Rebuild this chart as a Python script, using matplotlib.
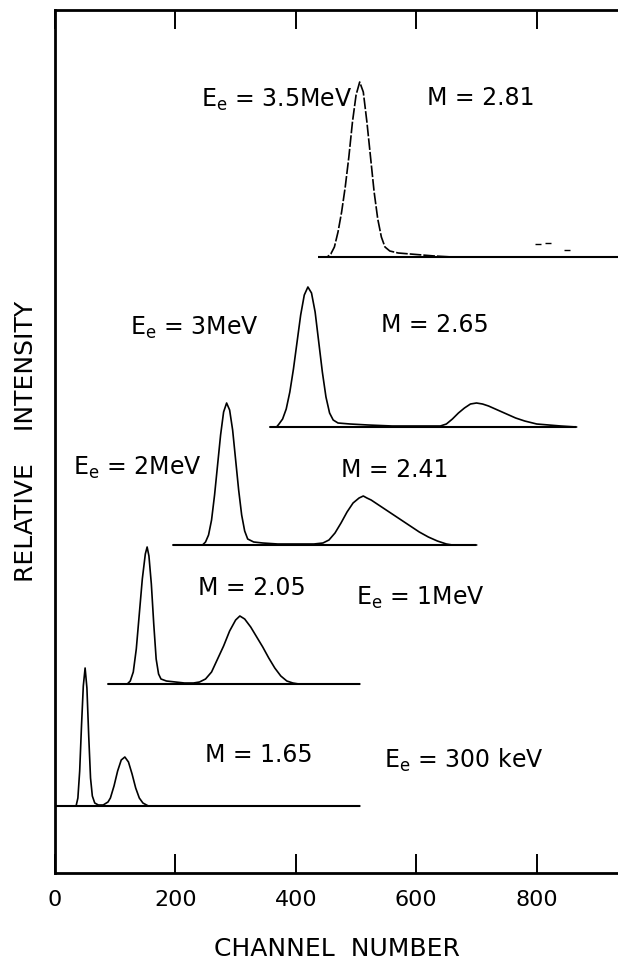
import matplotlib.pyplot as plt

# channel positions and heights above each trace's own baseline
ch_300kev = [0, 35, 38, 41, 44, 47, 50, 53, 56, 59, 62, 66, 72, 80, 88, 92, 98, 104, 110, 116, 122, 128, 134, 140, 146, 155, 506]
ht_300kev = [0, 0, 8, 35, 80, 120, 138, 118, 70, 28, 10, 3, 1, 1, 4, 8, 20, 35, 46, 49, 44, 32, 18, 8, 3, 0, 0]

ch_1mev = [88, 120, 125, 130, 135, 140, 145, 150, 153, 156, 160, 164, 168, 172, 176, 185, 200, 215, 230, 240, 250, 260, 270, 280, 290, 300, 307, 315, 325, 335, 345, 355, 365, 375, 385, 395, 405, 506]
ht_1mev = [0, 0, 3, 12, 35, 70, 105, 130, 137, 128, 100, 60, 25, 10, 5, 3, 2, 1, 1, 2, 5, 12, 25, 38, 53, 64, 68, 65, 57, 47, 37, 26, 16, 8, 3, 1, 0, 0]

ch_2mev = [196, 245, 250, 255, 260, 265, 270, 275, 280, 285, 290, 295, 300, 305, 310, 315, 320, 330, 345, 370, 400, 430, 445, 455, 465, 475, 485, 495, 505, 512, 518, 525, 535, 545, 560, 575, 590, 605, 620, 635, 650, 660, 700]
ht_2mev = [0, 0, 3, 10, 25, 50, 80, 110, 133, 142, 135, 115, 85, 55, 30, 14, 6, 3, 2, 1, 1, 1, 2, 5, 12, 22, 33, 42, 47, 49, 47, 45, 41, 37, 31, 25, 19, 13, 8, 4, 1, 0, 0]

ch_3mev = [357, 368, 372, 378, 384, 390, 396, 402, 408, 414, 420, 426, 432, 438, 444, 450, 456, 462, 470, 490, 520, 560, 600, 640, 650, 660, 670, 680, 690, 700, 710, 720, 735, 750, 765, 780, 800, 820, 840, 866]
ht_3mev = [0, 0, 3, 8, 18, 35, 58, 85, 112, 132, 140, 134, 115, 85, 55, 30, 14, 7, 4, 3, 2, 1, 1, 1, 3, 8, 14, 19, 23, 24, 23, 21, 17, 13, 9, 6, 3, 2, 1, 0]

ch_35mev = [437, 452, 458, 464, 470, 476, 482, 488, 494, 500, 506, 512, 518, 524, 530, 536, 542, 548, 556, 570, 590, 610, 630, 660, 940]
ht_35mev = [0, 0, 3, 10, 25, 45, 70, 100, 135, 162, 175, 165, 135, 100, 65, 38, 20, 10, 6, 4, 3, 2, 1, 0, 0]
stray_ch = [802, 818, 850]
stray_ht = [13, 14, 7]

# vertical offsets of the stacked spectra
baselines = [67, 189, 328, 446, 616]

energy_labels = ["$\\mathrm{E_e}$ = 300 keV", "$\\mathrm{E_e}$ = 1MeV", "$\\mathrm{E_e}$ = 2MeV",
                 "$\\mathrm{E_e}$ = 3MeV", "$\\mathrm{E_e}$ = 3.5MeV"]
m_labels = ["M = 1.65", "M = 2.05", "M = 2.41", "M = 2.65", "M = 2.81"]
# label centres (channel, height) for each spectrum
energy_pos = [(679, 113), (607, 275), (136, 405), (232, 545), (368, 773)]
m_pos = [(339, 118), (327, 285), (564, 403), (631, 548), (707, 775)]

fig = plt.figure(figsize=(6.18, 9.64), dpi=100)
ax = fig.add_axes([55 / 618, 91 / 964, 563 / 618, 863 / 964])

spectra = [(ch_300kev, ht_300kev), (ch_1mev, ht_1mev), (ch_2mev, ht_2mev),
           (ch_3mev, ht_3mev), (ch_35mev, ht_35mev)]
for i, (ch, ht) in enumerate(spectra):
    base = baselines[i]
    ax.plot([ch[0], ch[-1]], [base, base], color="black", lw=1.5, solid_capstyle="butt")
    style = (0, (7, 1.2)) if i == 4 else "-"
    ax.plot(ch, [h + base for h in ht], color="black", lw=1.2, linestyle=style)

ax.plot(stray_ch, [h + baselines[4] for h in stray_ht], linestyle="none",
        marker="_", markersize=4, color="black", mew=1.0)

for lab, (x, y) in zip(energy_labels, energy_pos):
    ax.text(x, y, lab, ha="center", va="center", fontsize=17)
for lab, (x, y) in zip(m_labels, m_pos):
    ax.text(x, y, lab, ha="center", va="center", fontsize=17)

ax.set_xlim(0, 935)
ax.set_ylim(0, 863)
ax.set_xticks([0, 200, 400, 600, 800])
ax.set_yticks([])
ax.tick_params(axis="x", direction="in", length=14, width=1.4, top=True,
               labelsize=16, pad=12)
for s in ["left", "bottom", "top"]:
    ax.spines[s].set_linewidth(2.0)
ax.spines["right"].set_visible(False)

ax.set_xlabel("CHANNEL  NUMBER", fontsize=18, labelpad=20)
ax.set_ylabel("RELATIVE    INTENSITY", fontsize=18, labelpad=12)

fig.savefig("out.png", dpi=100)
